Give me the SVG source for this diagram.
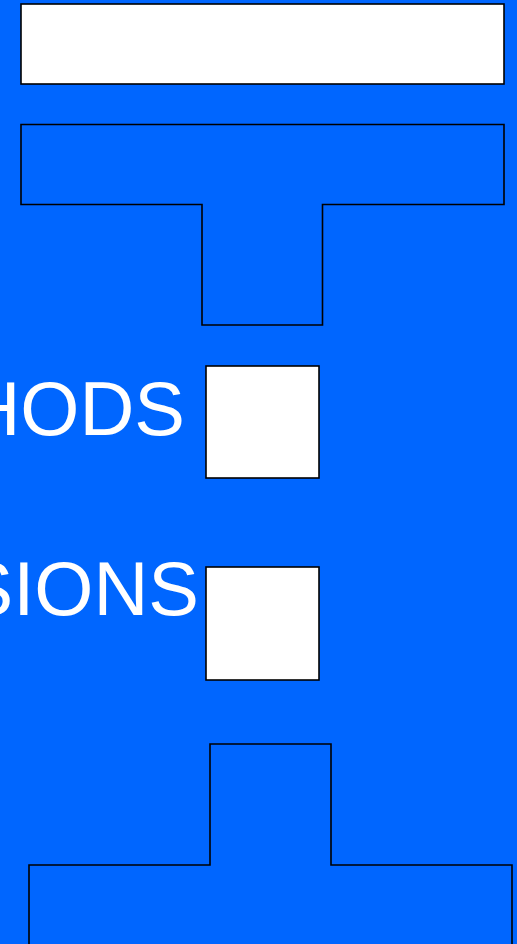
<svg xmlns="http://www.w3.org/2000/svg" width="517" height="944" viewBox="0 0 517 944">
<style>
.s{stroke:#000;stroke-width:1.6;}
.w{fill:#fff;}
.b{fill:none;}
.t{fill:#fff;font-family:"Liberation Sans",Arial,sans-serif;font-size:76px;text-anchor:end;}
</style>
<rect width="517" height="944" fill="#0066ff"/>
<g id="bar"><rect class="s w" x="21" y="4" width="483" height="80"/></g>
<g id="tee"><path class="s b" d="M21 124.5H504V204.5H322.5V325H202V204.5H21Z"/></g>
<g id="methods"><text class="t" x="185" y="435">METHODS</text><rect class="s w" x="206" y="366" width="113" height="112"/></g>
<g id="dimensions"><text class="t" x="199" y="615">DIMENSIONS</text><rect class="s w" x="206" y="567" width="113" height="113"/></g>
<g id="base"><path class="s b" d="M29 950V865H210V744H331V865H512V950"/></g>
<g id="connectors"></g>
</svg>
